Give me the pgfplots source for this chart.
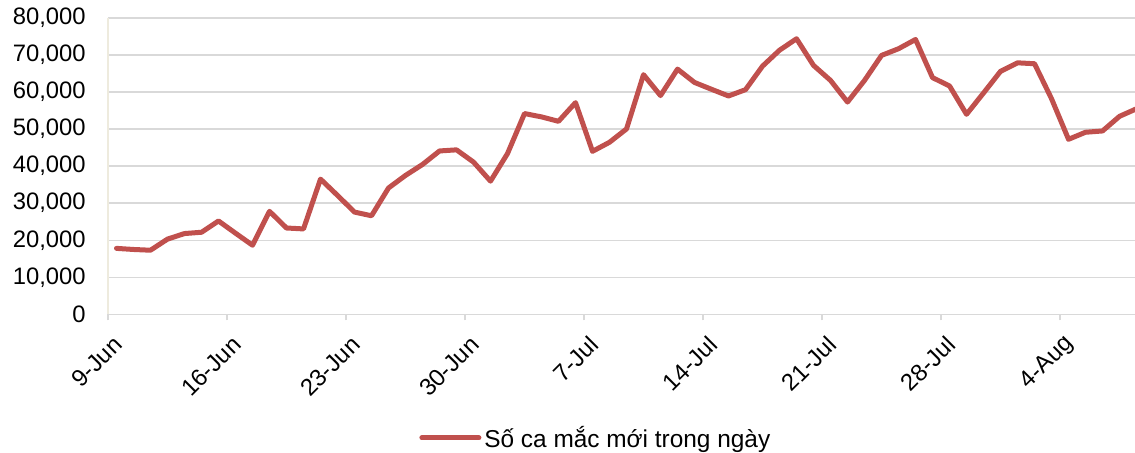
\documentclass[border=0pt]{standalone}
\usepackage{pgfplots}
\pgfplotsset{compat=1.18}
\usepackage{fontspec}
\setmainfont{Liberation Sans}
\definecolor{serred}{RGB}{192,80,77}
\definecolor{gridgray}{RGB}{217,217,217}
\definecolor{yaxcol}{RGB}{238,235,222}
\begin{document}
\begin{tikzpicture}
\path[use as bounding box] (-54pt,-69.35pt) rectangle (513.5pt,157.15pt);
\begin{axis}[
  at={(0pt,0pt)}, anchor=south west,
  scale only axis,
  width=513.5pt, height=148.15pt,
  xmin=0, xmax=60.41,
  ymin=0, ymax=80000,
  axis x line*=bottom, axis y line*=left,
  x axis line style={draw=gridgray, line width=0.7pt},
  y axis line style={draw=yaxcol, line width=0.7pt},
  ymajorgrids, grid style={draw=gridgray, line width=0.7pt},
  xtick={0,7,14,21,28,35,42,49,56},
  xticklabels={9-Jun,16-Jun,23-Jun,30-Jun,7-Jul,14-Jul,21-Jul,28-Jul,4-Aug},
  ytick={0,10000,20000,30000,40000,50000,60000,70000,80000},
  scaled y ticks=false,
  /pgf/number format/fixed,
  /pgf/number format/1000 sep={,},
  /pgf/number format/assume math mode=true,
  tick align=outside,
  x tick style={draw=gridgray, line width=0.7pt},
  y tick style={draw=none},
  major tick length=3pt,
  tick label style={font=\fontsize{11.9pt}{14pt}\selectfont, text=black},
  yticklabel style={inner sep=0pt, anchor=east, xshift=-8pt},
  xticklabel style={inner sep=0pt, xshift=5pt, yshift=-10pt, rotate=45, anchor=east},
  legend style={at={(0.4755,-0.4175)}, anchor=center, draw=none, fill=none,
    font=\fontsize{12.2pt}{14pt}\selectfont, inner sep=0pt,
    nodes={inner sep=1.5pt}},
  legend image code/.code={\draw[#1] (0pt,0pt) -- (28.5pt,0pt);},
]
\addplot[serred, line width=2.5pt, line join=round, line cap=round] coordinates {
(0.5,17800) (1.5,17500) (2.5,17300) (3.5,20300) (4.5,21800) (5.5,22150)
(6.5,25200) (7.5,21900) (8.5,18650) (9.5,27800) (10.5,23300) (11.5,23050)
(12.5,36500) (13.5,32100) (14.5,27600) (15.5,26600) (16.5,34100) (17.5,37500)
(18.5,40450) (19.5,44100) (20.5,44400) (21.5,41100) (22.5,35950) (23.5,43400)
(24.5,54200) (25.5,53300) (26.5,52100) (27.5,57150) (28.5,44000) (29.5,46450)
(30.5,50050) (31.5,64700) (32.5,59050) (33.5,66200) (34.5,62600) (35.5,60750)
(36.5,58950) (37.5,60650) (38.5,67000) (39.5,71300) (40.5,74400) (41.5,67200)
(42.5,63150) (43.5,57300) (44.5,63150) (45.5,69900) (46.5,71700) (47.5,74200)
(48.5,63900) (49.5,61650) (50.5,54000) (51.5,59750) (52.5,65600) (53.5,67900)
(54.5,67650) (55.5,58200) (56.5,47250) (57.5,49150) (58.5,49500) (59.5,53450)
(60.5,55500)
};
\addlegendentry{Số ca mắc mới trong ngày}
\end{axis}
\end{tikzpicture}
\end{document}
